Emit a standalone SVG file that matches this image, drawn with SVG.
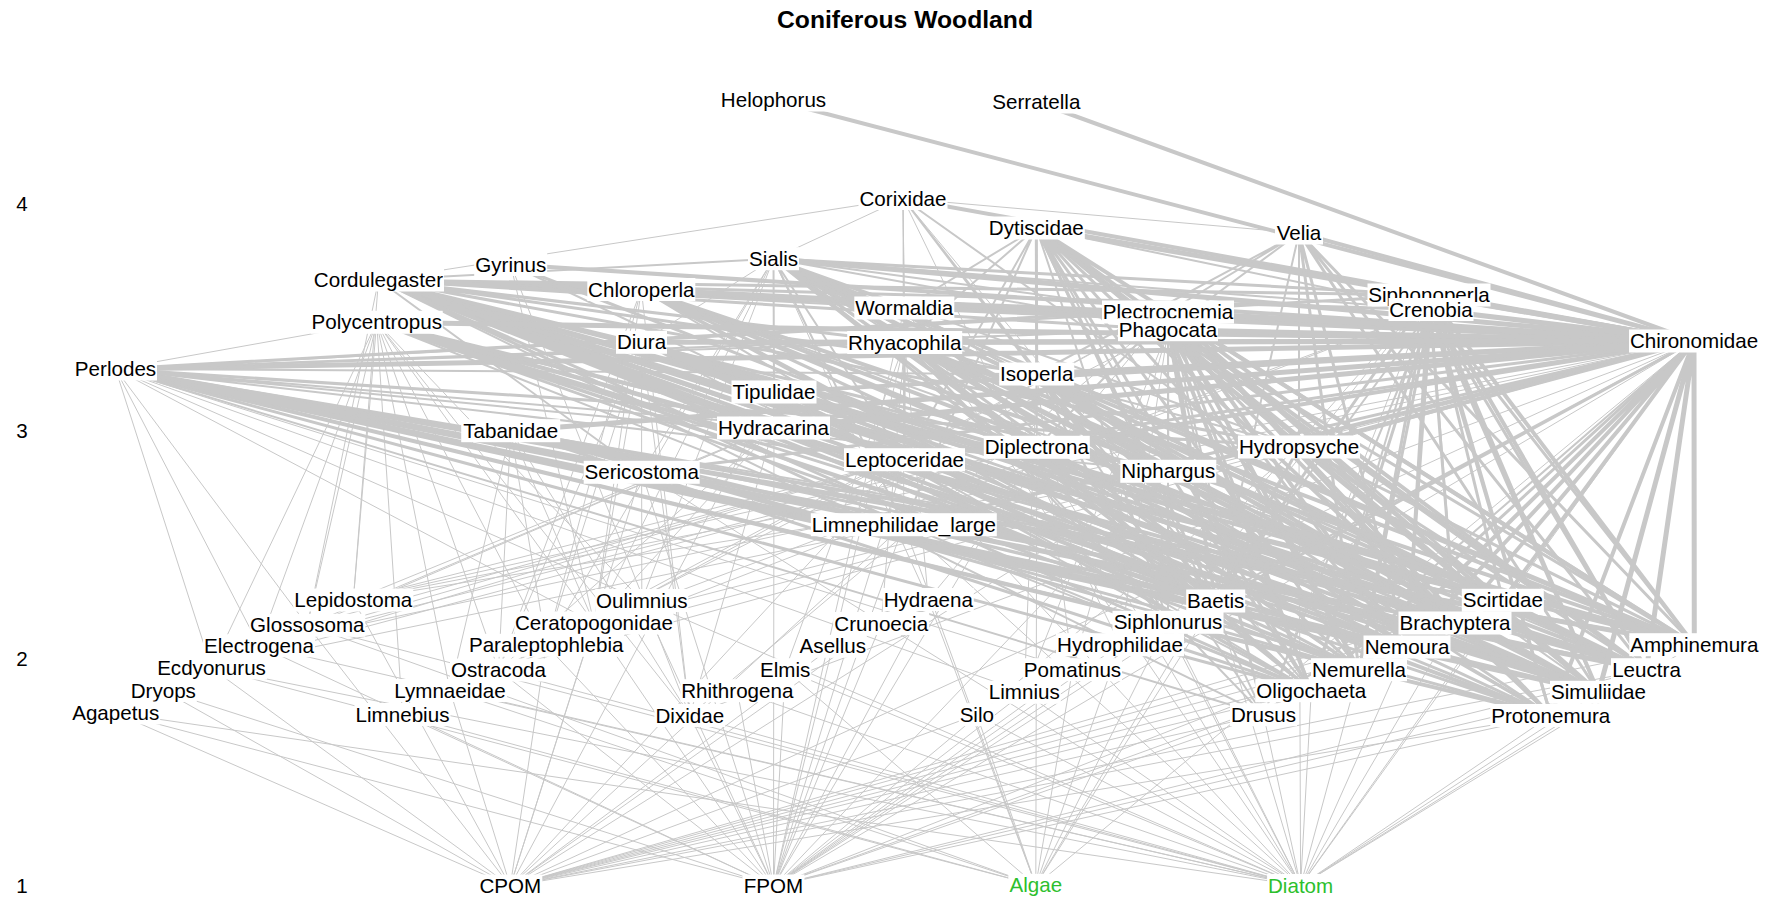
<svg xmlns="http://www.w3.org/2000/svg" width="1776" height="900" viewBox="0 0 1776 900">
<style>
text{font-family:"Liberation Sans",Arial,Helvetica,sans-serif;font-size:20.6px;fill:#000}
.title{font-size:24.7px;font-weight:bold;text-anchor:middle}
.axis text{text-anchor:middle}
#connectors path{fill:none;stroke:#c8c8c8;stroke-linecap:butt}
#connectors .w1{stroke-width:1}
#connectors .w2{stroke-width:2}
#connectors .w3{stroke-width:3}
#connectors .w4{stroke-width:4}
#connectors .w5{stroke-width:5}
.node rect{fill:#fff}
.node text{text-anchor:middle}
.node.producer text{fill:#2dbf2d}
</style>
<rect width="1776" height="900" fill="#fff"/>
<text class="title" x="905" y="28">Coniferous Woodland</text>
<g class="axis">
<text x="22" y="211">4</text>
<text x="22" y="438">3</text>
<text x="22" y="665.7">2</text>
<text x="22" y="893">1</text>
</g>
<g id="connectors">
<!-- Perlodes -->
<path class="w5" d="M115.5 369L1694 341M115.5 369L1646.5 669.7M115.5 369L1694.3 644.7M115.5 369L1598.5 692.3"/>
<path class="w4" d="M115.5 369L1550.8 715.5M115.5 369L1359 669.7M115.5 369L1407 647M115.5 369L1455 623M115.5 369L1215.7 601"/>
<path class="w3" d="M115.5 369L1429 295M115.5 369L1299 447M115.5 369L1502.8 600.3M115.5 369L1311.3 690.7"/>
<path class="w2" d="M115.5 369L1168 329.7M115.5 369L904.7 342.5M115.5 369L1036.7 374M115.5 369L1168 312M115.5 369L1168.3 471.3M115.5 369L1036.8 447.3M115.5 369L904.5 459.7M115.5 369L1263.5 714.7M115.5 369L1168 622.3"/>
<path class="w1" d="M115.5 369L376.7 322.3M115.5 369L211.5 668M115.5 369L259 645.7M115.5 369L307.3 625.3M115.5 369L641.8 600.5M115.5 369L594 623M115.5 369L1024.3 692.3M115.5 369L1072.5 669.7"/>
<!-- Cordulegaster -->
<path class="w5" d="M378.5 280L1694 341M378.5 280L1646.5 669.7M378.5 280L1694.3 644.7M378.5 280L1598.5 692.3"/>
<path class="w4" d="M378.5 280L1550.8 715.5M378.5 280L1359 669.7M378.5 280L1407 647M378.5 280L1455 623M378.5 280L1215.7 601M378.5 280L1502.8 600.3"/>
<path class="w3" d="M378.5 280L1429 295M378.5 280L1168 312M378.5 280L1168 329.7M378.5 280L1431 309.5M378.5 280L1036.7 374M378.5 280L904.7 342.5M378.5 280L1299 447M378.5 280L1168.3 471.3M378.5 280L1036.8 447.3M378.5 280L904.5 459.7M378.5 280L903.8 524.7M378.5 280L1311.3 690.7"/>
<path class="w2" d="M378.5 280L904.3 308M378.5 280L773.5 258.7M378.5 280L641.3 289.5M378.5 280L774 392M378.5 280L641.7 472.3M378.5 280L1263.5 714.7"/>
<path class="w1" d="M378.5 280L903 198.5M378.5 280L773.5 428M378.5 280L353.3 600M378.5 280L307.3 625.3"/>
<!-- Gyrinus -->
<path class="w4" d="M510.7 264.5L1694 341"/>
<path class="w3" d="M510.7 264.5L1598.5 692.3"/>
<path class="w2" d="M510.7 264.5L1215.7 601"/>
<path class="w1" d="M510.7 264.5L689.8 715.5M510.7 264.5L594 623"/>
<!-- Chloroperla -->
<path class="w5" d="M641.3 289.5L1694 341"/>
<path class="w4" d="M641.3 289.5L1646.5 669.7M641.3 289.5L1694.3 644.7M641.3 289.5L1598.5 692.3"/>
<path class="w3" d="M641.3 289.5L1407 647M641.3 289.5L1359 669.7M641.3 289.5L1550.8 715.5M641.3 289.5L1215.7 601M641.3 289.5L1455 623"/>
<path class="w2" d="M641.3 289.5L1311.3 690.7M641.3 289.5L1502.8 600.3"/>
<path class="w1" d="M641.3 289.5L594 623M641.3 289.5L689.8 715.5M641.3 289.5L546.2 645.3M641.3 289.5L498.5 670"/>
<!-- Sialis -->
<path class="w5" d="M773.5 258.7L1694 341"/>
<path class="w4" d="M773.5 258.7L1646.5 669.7M773.5 258.7L1694.3 644.7M773.5 258.7L1598.5 692.3"/>
<path class="w3" d="M773.5 258.7L1550.8 715.5M773.5 258.7L1359 669.7M773.5 258.7L1311.3 690.7M773.5 258.7L1215.7 601M773.5 258.7L1455 623M773.5 258.7L1407 647M773.5 258.7L1502.8 600.3M773.5 258.7L1429 295"/>
<path class="w2" d="M773.5 258.7L1431 309.5M773.5 258.7L1168 312M773.5 258.7L1168 329.7M773.5 258.7L1036.7 374M773.5 258.7L904.7 342.5M773.5 258.7L904.3 308M773.5 258.7L1299 447M773.5 258.7L1168.3 471.3M773.5 258.7L1036.8 447.3M773.5 258.7L904.5 459.7M773.5 258.7L774 392M773.5 258.7L903.8 524.7"/>
<path class="w1" d="M773.5 258.7L773.5 428M773.5 258.7L641.7 472.3M773.5 258.7L641.5 342.3M773.5 258.7L903 198.5M773.5 258.7L641.8 600.5M773.5 258.7L594 623M773.5 258.7L546.2 645.3M773.5 258.7L928.3 599.5"/>
<!-- Corixidae -->
<path class="w4" d="M903 198.5L1694 341"/>
<path class="w2" d="M903 198.5L1598.5 692.3M903 198.5L1215.7 601M903 198.5L1036.7 374"/>
<path class="w1" d="M903 198.5L904.3 308M903 198.5L904.7 342.5M903 198.5L903.8 524.7M903 198.5L1120 644.7M903 198.5L1311.3 690.7"/>
<!-- Helophorus, Serratella -->
<path class="w4" d="M773.5 100L1694 341M1036.3 102L1694 341"/>
<!-- Dytiscidae -->
<path class="w5" d="M1036.3 228L1694 341"/>
<path class="w4" d="M1036.3 228L1646.5 669.7M1036.3 228L1694.3 644.7M1036.3 228L1598.5 692.3"/>
<path class="w3" d="M1036.3 228L1429 295M1036.3 228L1036.7 374M1036.3 228L1215.7 601M1036.3 228L1359 669.7M1036.3 228L1407 647M1036.3 228L1455 623M1036.3 228L1550.8 715.5M1036.3 228L1502.8 600.3M1036.3 228L1311.3 690.7"/>
<path class="w2" d="M1036.3 228L1431 309.5M1036.3 228L1168 329.7M1036.3 228L904.7 342.5M1036.3 228L904.3 308M1036.3 228L1036.8 447.3M1036.3 228L1168.3 471.3M1036.3 228L1299 447M1036.3 228L904.5 459.7M1036.3 228L903.8 524.7M1036.3 228L1168 622.3M1036.3 228L1263.5 714.7"/>
<!-- Velia -->
<path class="w4" d="M1299 233L1694 341"/>
<path class="w3" d="M1299 233L1407 647M1299 233L1359 669.7M1299 233L1598.5 692.3M1299 233L1646.5 669.7M1299 233L1694.3 644.7"/>
<path class="w2" d="M1299 233L1036.7 374M1299 233L1168 312M1299 233L1168 329.7M1299 233L1299 447M1299 233L1215.7 601"/>
<path class="w1" d="M1299 233L903 198.5"/>
<!-- Siphonoperla -->
<path class="w5" d="M1429 295L1694 341"/>
<path class="w4" d="M1429 295L1646.5 669.7M1429 295L1694.3 644.7M1429 295L1598.5 692.3"/>
<path class="w3" d="M1429 295L1550.8 715.5M1429 295L1359 669.7M1429 295L1407 647M1429 295L1455 623M1429 295L1215.7 601M1429 295L1502.8 600.3"/>
<path class="w2" d="M1429 295L1311.3 690.7"/>
<path class="w1" d="M1429 295L1263.5 714.7M1429 295L1168 622.3M1429 295L1120 644.7"/>
<!-- Crenobia -->
<path class="w5" d="M1431 309.5L1694 341"/>
<path class="w3" d="M1431 309.5L1311.3 690.7M1431 309.5L1646.5 669.7M1431 309.5L1694.3 644.7M1431 309.5L1598.5 692.3M1431 309.5L1359 669.7M1431 309.5L1407 647M1431 309.5L1550.8 715.5"/>
<path class="w2" d="M1431 309.5L1215.7 601M1431 309.5L1455 623M1431 309.5L1263.5 714.7"/>
<path class="w1" d="M1431 309.5L498.5 670M1431 309.5L594 623"/>
<!-- Wormaldia -->
<path class="w4" d="M904.3 308L1694 341"/>
<path class="w3" d="M904.3 308L1598.5 692.3"/>
<path class="w2" d="M904.3 308L1215.7 601"/>
<path class="w1" d="M904.3 308L773.5 886M904.3 308L1300.6 885.5"/>
<!-- Plectrocnemia -->
<path class="w5" d="M1168 312L1694 341"/>
<path class="w4" d="M1168 312L1646.5 669.7M1168 312L1694.3 644.7M1168 312L1598.5 692.3M1168 312L1550.8 715.5M1168 312L1359 669.7M1168 312L1407 647"/>
<path class="w3" d="M1168 312L1455 623M1168 312L1215.7 601M1168 312L1502.8 600.3M1168 312L1311.3 690.7"/>
<path class="w2" d="M1168 312L1263.5 714.7M1168 312L1168 622.3M1168 312L1299 447M1168 312L1168.3 471.3M1168 312L1036.8 447.3"/>
<path class="w1" d="M1168 312L594 623M1168 312L689.8 715.5M1168 312L498.5 670M1168 312L928.3 599.5"/>
<!-- Polycentropus -->
<path class="w5" d="M376.7 322.3L1694 341"/>
<path class="w4" d="M376.7 322.3L1598.5 692.3M376.7 322.3L1646.5 669.7M376.7 322.3L1694.3 644.7"/>
<path class="w3" d="M376.7 322.3L1407 647M376.7 322.3L1359 669.7M376.7 322.3L1550.8 715.5M376.7 322.3L1215.7 601M376.7 322.3L1455 623M376.7 322.3L1502.8 600.3"/>
<path class="w2" d="M376.7 322.3L1311.3 690.7"/>
<path class="w1" d="M376.7 322.3L353.3 600M376.7 322.3L307.3 625.3M376.7 322.3L259 645.7M376.7 322.3L211.5 668M376.7 322.3L594 623M376.7 322.3L546.2 645.3M376.7 322.3L498.5 670M376.7 322.3L450 690.5M376.7 322.3L402.5 714.5M376.7 322.3L689.8 715.5M376.7 322.3L641.8 600.5"/>
<!-- Phagocata -->
<path class="w5" d="M1168 329.7L1694 341"/>
<path class="w4" d="M1168 329.7L1311.3 690.7"/>
<path class="w3" d="M1168 329.7L1646.5 669.7M1168 329.7L1694.3 644.7M1168 329.7L1598.5 692.3M1168 329.7L1359 669.7M1168 329.7L1407 647M1168 329.7L1550.8 715.5M1168 329.7L1215.7 601"/>
<path class="w2" d="M1168 329.7L1455 623M1168 329.7L1502.8 600.3M1168 329.7L1263.5 714.7M1168 329.7L1168 622.3"/>
<path class="w1" d="M1168 329.7L1120 644.7M1168 329.7L1072.5 669.7M1168 329.7L1024.3 692.3M1168 329.7L498.5 670"/>
<!-- Diura -->
<path class="w5" d="M641.5 342.3L1694 341"/>
<path class="w4" d="M641.5 342.3L1646.5 669.7M641.5 342.3L1694.3 644.7M641.5 342.3L1598.5 692.3"/>
<path class="w3" d="M641.5 342.3L1550.8 715.5M641.5 342.3L1359 669.7M641.5 342.3L1407 647M641.5 342.3L1215.7 601M641.5 342.3L1455 623M641.5 342.3L1502.8 600.3"/>
<path class="w2" d="M641.5 342.3L1311.3 690.7"/>
<path class="w1" d="M641.5 342.3L594 623M641.5 342.3L689.8 715.5M641.5 342.3L498.5 670M641.5 342.3L546.2 645.3M641.5 342.3L641.8 600.5"/>
<!-- Rhyacophila -->
<path class="w5" d="M904.7 342.5L1694 341"/>
<path class="w4" d="M904.7 342.5L1598.5 692.3M904.7 342.5L1646.5 669.7M904.7 342.5L1694.3 644.7M904.7 342.5L1215.7 601"/>
<path class="w3" d="M904.7 342.5L1550.8 715.5M904.7 342.5L1359 669.7M904.7 342.5L1407 647M904.7 342.5L1455 623M904.7 342.5L1502.8 600.3M904.7 342.5L1311.3 690.7"/>
<path class="w2" d="M904.7 342.5L1263.5 714.7M904.7 342.5L1168 622.3M904.7 342.5L1299 447M904.7 342.5L1036.8 447.3M904.7 342.5L904.5 459.7M904.7 342.5L1168.3 471.3"/>
<path class="w1" d="M904.7 342.5L785.2 669.7M904.7 342.5L928.3 599.5M904.7 342.5L881.2 623.5M904.7 342.5L832.8 646.3"/>
<!-- Isoperla -->
<path class="w5" d="M1036.7 374L1694 341"/>
<path class="w4" d="M1036.7 374L1646.5 669.7M1036.7 374L1694.3 644.7M1036.7 374L1598.5 692.3M1036.7 374L1215.7 601"/>
<path class="w3" d="M1036.7 374L1550.8 715.5M1036.7 374L1359 669.7M1036.7 374L1407 647M1036.7 374L1455 623M1036.7 374L1502.8 600.3"/>
<path class="w2" d="M1036.7 374L1311.3 690.7M1036.7 374L1168 622.3M1036.7 374L1263.5 714.7"/>
<path class="w1" d="M1036.7 374L1024.3 692.3M1036.7 374L1072.5 669.7M1036.7 374L1300.6 885.5"/>
<!-- Tipulidae -->
<path class="w4" d="M774 392L1694 341"/>
<path class="w3" d="M774 392L1311.3 690.7"/>
<path class="w2" d="M774 392L1598.5 692.3"/>
<path class="w1" d="M774 392L510.3 886M774 392L773.5 886"/>
<!-- Hydracarina -->
<path class="w5" d="M773.5 428L1694 341"/>
<path class="w3" d="M773.5 428L1598.5 692.3"/>
<path class="w2" d="M773.5 428L1215.7 601"/>
<path class="w1" d="M773.5 428L498.5 670M773.5 428L594 623M773.5 428L689.8 715.5M773.5 428L353.3 600M773.5 428L211.5 668M773.5 428L307.3 625.3"/>
<!-- Tabanidae -->
<path class="w5" d="M510.7 430.7L1694 341"/>
<path class="w3" d="M510.7 430.7L1311.3 690.7M510.7 430.7L1646.5 669.7M510.7 430.7L1598.5 692.3M510.7 430.7L1694.3 644.7M510.7 430.7L1407 647M510.7 430.7L1359 669.7M510.7 430.7L1550.8 715.5"/>
<path class="w2" d="M510.7 430.7L1502.8 600.3"/>
<path class="w1" d="M510.7 430.7L594 623M510.7 430.7L689.8 715.5M510.7 430.7L498.5 670M510.7 430.7L546.2 645.3M510.7 430.7L450 690.5"/>
<!-- Diplectrona -->
<path class="w4" d="M1036.8 447.3L1694 341"/>
<path class="w3" d="M1036.8 447.3L1598.5 692.3"/>
<path class="w2" d="M1036.8 447.3L1215.7 601M1036.8 447.3L1311.3 690.7"/>
<path class="w1" d="M1036.8 447.3L773.5 886M1036.8 447.3L1300.6 885.5M1036.8 447.3L1035.8 885.3M1036.8 447.3L211.5 668M1036.8 447.3L259 645.7M1036.8 447.3L353.3 600"/>
<!-- Hydropsyche -->
<path class="w4" d="M1299 447L1694 341M1299 447L1598.5 692.3"/>
<path class="w3" d="M1299 447L1215.7 601M1299 447L1646.5 669.7M1299 447L1694.3 644.7"/>
<path class="w1" d="M1299 447L773.5 886M1299 447L1300.6 885.5M1299 447L1035.8 885.3"/>
<!-- Leptoceridae -->
<path class="w3" d="M904.5 459.7L1694 341"/>
<path class="w2" d="M904.5 459.7L1311.3 690.7"/>
<path class="w1" d="M904.5 459.7L510.3 886M904.5 459.7L773.5 886M904.5 459.7L1300.6 885.5M904.5 459.7L211.5 668M904.5 459.7L259 645.7M904.5 459.7L353.3 600M904.5 459.7L307.3 625.3"/>
<!-- Sericostoma -->
<path class="w3" d="M641.7 472.3L1694 341"/>
<path class="w1" d="M641.7 472.3L510.3 886M641.7 472.3L773.5 886M641.7 472.3L1300.6 885.5"/>
<!-- Niphargus -->
<path class="w4" d="M1168.3 471.3L1694 341"/>
<path class="w3" d="M1168.3 471.3L1311.3 690.7"/>
<path class="w2" d="M1168.3 471.3L1646.5 669.7M1168.3 471.3L1598.5 692.3"/>
<path class="w1" d="M1168.3 471.3L510.3 886M1168.3 471.3L773.5 886M1168.3 471.3L353.3 600M1168.3 471.3L211.5 668"/>
<!-- Limnephilidae_large -->
<path class="w3" d="M903.8 524.7L1694 341"/>
<path class="w2" d="M903.8 524.7L1311.3 690.7"/>
<path class="w1" d="M903.8 524.7L510.3 886M903.8 524.7L773.5 886M903.8 524.7L1035.8 885.3M903.8 524.7L1300.6 885.5"/>
<!-- Chironomidae -->
<path class="w5" d="M1694 341L1694.3 644.7M1694 341L1646.5 669.7M1694 341L1598.5 692.3"/>
<path class="w4" d="M1694 341L1550.8 715.5M1694 341L1359 669.7M1694 341L1502.8 600.3M1694 341L1455 623M1694 341L1407 647"/>
<path class="w3" d="M1694 341L1215.7 601M1694 341L1311.3 690.7"/>
<path class="w2" d="M1694 341L1263.5 714.7M1694 341L1168 622.3"/>
<path class="w1" d="M1694 341L594 623M1694 341L689.8 715.5M1694 341L498.5 670M1694 341L546.2 645.3M1694 341L773.5 886M1694 341L1300.6 885.5M1694 341L510.3 886M1694 341L1035.8 885.3M1694 341L353.3 600M1694 341L259 645.7"/>
<!-- primary consumers to basal resources -->
<path class="w1" d="M353.3 600L510.3 886M641.8 600.5L773.5 886M641.8 600.5L1300.6 885.5M928.3 599.5L1035.8 885.3M928.3 599.5L773.5 886M1215.7 601L773.5 886M1215.7 601L1300.6 885.5M1215.7 601L1035.8 885.3M1502.8 600.3L510.3 886M1502.8 600.3L773.5 886M1502.8 600.3L1300.6 885.5M307.3 625.3L1300.6 885.5M307.3 625.3L1035.8 885.3M307.3 625.3L510.3 886M594 623L773.5 886M594 623L510.3 886M881.2 623.5L510.3 886M881.2 623.5L773.5 886M1168 622.3L1300.6 885.5M1168 622.3L773.5 886M1168 622.3L1035.8 885.3M1455 623L510.3 886M1455 623L1300.6 885.5M259 645.7L1300.6 885.5M259 645.7L773.5 886M546.2 645.3L773.5 886M546.2 645.3L510.3 886M832.8 646.3L510.3 886M832.8 646.3L773.5 886M1120 644.7L1035.8 885.3M1120 644.7L773.5 886M1407 647L510.3 886M1407 647L1300.6 885.5M1694.3 644.7L510.3 886M1694.3 644.7L1300.6 885.5M211.5 668L1300.6 885.5M211.5 668L1035.8 885.3M211.5 668L510.3 886M498.5 670L773.5 886M498.5 670L1300.6 885.5M785.2 669.7L773.5 886M785.2 669.7L1300.6 885.5M785.2 669.7L1035.8 885.3M1072.5 669.7L773.5 886M1072.5 669.7L1035.8 885.3M1359 669.7L510.3 886M1359 669.7L1300.6 885.5M1646.5 669.7L510.3 886M1646.5 669.7L1300.6 885.5M1646.5 669.7L773.5 886M163.3 690.5L510.3 886M163.3 690.5L773.5 886M450 690.5L1035.8 885.3M450 690.5L1300.6 885.5M450 690.5L510.3 886M737.3 690.7L1300.6 885.5M737.3 690.7L773.5 886M1024.3 692.3L773.5 886M1024.3 692.3L1300.6 885.5M1311.3 690.7L773.5 886M1311.3 690.7L510.3 886M1311.3 690.7L1300.6 885.5M1598.5 692.3L773.5 886M1598.5 692.3L1300.6 885.5M115.7 713L1300.6 885.5M115.7 713L510.3 886M115.7 713L773.5 886M402.5 714.5L1035.8 885.3M402.5 714.5L773.5 886M689.8 715.5L773.5 886M689.8 715.5L1300.6 885.5M976.8 714.7L510.3 886M976.8 714.7L1035.8 885.3M976.8 714.7L1300.6 885.5M1263.5 714.7L510.3 886M1263.5 714.7L1300.6 885.5M1263.5 714.7L773.5 886M1550.8 715.5L510.3 886M1550.8 715.5L1300.6 885.5M1550.8 715.5L773.5 886"/>
</g>
<g id="nodes">
<g id="node-Helophorus" class="node" transform="translate(773.5 107)"><rect x="-53.5" y="-18.5" width="107" height="23"/><text>Helophorus</text></g>
<g id="node-Serratella" class="node" transform="translate(1036.3 109)"><rect x="-45" y="-18.5" width="90" height="23"/><text>Serratella</text></g>
<g id="node-Corixidae" class="node" transform="translate(903 205.5)"><rect x="-44.5" y="-18.5" width="89" height="23"/><text>Corixidae</text></g>
<g id="node-Dytiscidae" class="node" transform="translate(1036.3 235)"><rect x="-48.5" y="-18.5" width="97" height="23"/><text>Dytiscidae</text></g>
<g id="node-Velia" class="node" transform="translate(1299 240)"><rect x="-24" y="-18.5" width="48" height="23"/><text>Velia</text></g>
<g id="node-Sialis" class="node" transform="translate(773.5 265.7)"><rect x="-25.5" y="-18.5" width="51" height="23"/><text>Sialis</text></g>
<g id="node-Gyrinus" class="node" transform="translate(510.7 271.5)"><rect x="-36.5" y="-18.5" width="73" height="23"/><text>Gyrinus</text></g>
<g id="node-Cordulegaster" class="node" transform="translate(378.5 287)"><rect x="-65.5" y="-18.5" width="131" height="23"/><text>Cordulegaster</text></g>
<g id="node-Chloroperla" class="node" transform="translate(641.3 296.5)"><rect x="-54" y="-18.5" width="108" height="23"/><text>Chloroperla</text></g>
<g id="node-Siphonoperla" class="node" transform="translate(1429 302)"><rect x="-61.5" y="-18.5" width="123" height="23"/><text>Siphonoperla</text></g>
<g id="node-Crenobia" class="node" transform="translate(1431 316.5)"><rect x="-42.5" y="-18.5" width="85" height="23"/><text>Crenobia</text></g>
<g id="node-Wormaldia" class="node" transform="translate(904.3 315)"><rect x="-50" y="-18.5" width="100" height="23"/><text>Wormaldia</text></g>
<g id="node-Plectrocnemia" class="node" transform="translate(1168 319)"><rect x="-66" y="-18.5" width="132" height="23"/><text>Plectrocnemia</text></g>
<g id="node-Polycentropus" class="node" transform="translate(376.7 329.3)"><rect x="-66" y="-18.5" width="132" height="23"/><text>Polycentropus</text></g>
<g id="node-Phagocata" class="node" transform="translate(1168 336.7)"><rect x="-50" y="-18.5" width="100" height="23"/><text>Phagocata</text></g>
<g id="node-Diura" class="node" transform="translate(641.5 349.3)"><rect x="-25.5" y="-18.5" width="51" height="23"/><text>Diura</text></g>
<g id="node-Rhyacophila" class="node" transform="translate(904.7 349.5)"><rect x="-57.5" y="-18.5" width="115" height="23"/><text>Rhyacophila</text></g>
<g id="node-Chironomidae" class="node" transform="translate(1694 348)"><rect x="-65" y="-18.5" width="130" height="23"/><text>Chironomidae</text></g>
<g id="node-Perlodes" class="node" transform="translate(115.5 376)"><rect x="-41.5" y="-18.5" width="83" height="23"/><text>Perlodes</text></g>
<g id="node-Isoperla" class="node" transform="translate(1036.7 381)"><rect x="-37.5" y="-18.5" width="75" height="23"/><text>Isoperla</text></g>
<g id="node-Tipulidae" class="node" transform="translate(774 399)"><rect x="-42.5" y="-18.5" width="85" height="23"/><text>Tipulidae</text></g>
<g id="node-Hydracarina" class="node" transform="translate(773.5 435)"><rect x="-56.5" y="-18.5" width="113" height="23"/><text>Hydracarina</text></g>
<g id="node-Tabanidae" class="node" transform="translate(510.7 437.7)"><rect x="-49.5" y="-18.5" width="99" height="23"/><text>Tabanidae</text></g>
<g id="node-Diplectrona" class="node" transform="translate(1036.8 454.3)"><rect x="-53" y="-18.5" width="106" height="23"/><text>Diplectrona</text></g>
<g id="node-Hydropsyche" class="node" transform="translate(1299 454)"><rect x="-61" y="-18.5" width="122" height="23"/><text>Hydropsyche</text></g>
<g id="node-Leptoceridae" class="node" transform="translate(904.5 466.7)"><rect x="-60.5" y="-18.5" width="121" height="23"/><text>Leptoceridae</text></g>
<g id="node-Sericostoma" class="node" transform="translate(641.7 479.3)"><rect x="-58" y="-18.5" width="116" height="23"/><text>Sericostoma</text></g>
<g id="node-Niphargus" class="node" transform="translate(1168.3 478.3)"><rect x="-48" y="-18.5" width="96" height="23"/><text>Niphargus</text></g>
<g id="node-Limnephilidae_large" class="node" transform="translate(903.8 531.7)"><rect x="-93" y="-18.5" width="186" height="23"/><text>Limnephilidae_large</text></g>
<g id="node-Lepidostoma" class="node" transform="translate(353.3 607)"><rect x="-60" y="-18.5" width="120" height="23"/><text>Lepidostoma</text></g>
<g id="node-Oulimnius" class="node" transform="translate(641.8 607.5)"><rect x="-46.5" y="-18.5" width="93" height="23"/><text>Oulimnius</text></g>
<g id="node-Hydraena" class="node" transform="translate(928.3 606.5)"><rect x="-45.5" y="-18.5" width="91" height="23"/><text>Hydraena</text></g>
<g id="node-Baetis" class="node" transform="translate(1215.7 608)"><rect x="-29.5" y="-18.5" width="59" height="23"/><text>Baetis</text></g>
<g id="node-Scirtidae" class="node" transform="translate(1502.8 607.3)"><rect x="-41" y="-18.5" width="82" height="23"/><text>Scirtidae</text></g>
<g id="node-Glossosoma" class="node" transform="translate(307.3 632.3)"><rect x="-58" y="-18.5" width="116" height="23"/><text>Glossosoma</text></g>
<g id="node-Ceratopogonidae" class="node" transform="translate(594 630)"><rect x="-79.5" y="-18.5" width="159" height="23"/><text>Ceratopogonidae</text></g>
<g id="node-Crunoecia" class="node" transform="translate(881.2 630.5)"><rect x="-48" y="-18.5" width="96" height="23"/><text>Crunoecia</text></g>
<g id="node-Siphlonurus" class="node" transform="translate(1168 629.3)"><rect x="-55.5" y="-18.5" width="111" height="23"/><text>Siphlonurus</text></g>
<g id="node-Brachyptera" class="node" transform="translate(1455 630)"><rect x="-56.5" y="-18.5" width="113" height="23"/><text>Brachyptera</text></g>
<g id="node-Electrogena" class="node" transform="translate(259 652.7)"><rect x="-56" y="-18.5" width="112" height="23"/><text>Electrogena</text></g>
<g id="node-Paraleptophlebia" class="node" transform="translate(546.2 652.3)"><rect x="-78" y="-18.5" width="156" height="23"/><text>Paraleptophlebia</text></g>
<g id="node-Asellus" class="node" transform="translate(832.8 653.3)"><rect x="-34" y="-18.5" width="68" height="23"/><text>Asellus</text></g>
<g id="node-Hydrophilidae" class="node" transform="translate(1120 651.7)"><rect x="-64" y="-18.5" width="128" height="23"/><text>Hydrophilidae</text></g>
<g id="node-Nemoura" class="node" transform="translate(1407 654)"><rect x="-43.5" y="-18.5" width="87" height="23"/><text>Nemoura</text></g>
<g id="node-Amphinemura" class="node" transform="translate(1694.3 651.7)"><rect x="-65" y="-18.5" width="130" height="23"/><text>Amphinemura</text></g>
<g id="node-Ecdyonurus" class="node" transform="translate(211.5 675)"><rect x="-55.5" y="-18.5" width="111" height="23"/><text>Ecdyonurus</text></g>
<g id="node-Ostracoda" class="node" transform="translate(498.5 677)"><rect x="-48.5" y="-18.5" width="97" height="23"/><text>Ostracoda</text></g>
<g id="node-Elmis" class="node" transform="translate(785.2 676.7)"><rect x="-26" y="-18.5" width="52" height="23"/><text>Elmis</text></g>
<g id="node-Pomatinus" class="node" transform="translate(1072.5 676.7)"><rect x="-49.5" y="-18.5" width="99" height="23"/><text>Pomatinus</text></g>
<g id="node-Nemurella" class="node" transform="translate(1359 676.7)"><rect x="-48" y="-18.5" width="96" height="23"/><text>Nemurella</text></g>
<g id="node-Leuctra" class="node" transform="translate(1646.5 676.7)"><rect x="-35.5" y="-18.5" width="71" height="23"/><text>Leuctra</text></g>
<g id="node-Dryops" class="node" transform="translate(163.3 697.5)"><rect x="-33.5" y="-18.5" width="67" height="23"/><text>Dryops</text></g>
<g id="node-Lymnaeidae" class="node" transform="translate(450 697.5)"><rect x="-57" y="-18.5" width="114" height="23"/><text>Lymnaeidae</text></g>
<g id="node-Rhithrogena" class="node" transform="translate(737.3 697.7)"><rect x="-57" y="-18.5" width="114" height="23"/><text>Rhithrogena</text></g>
<g id="node-Limnius" class="node" transform="translate(1024.3 699.3)"><rect x="-36.5" y="-18.5" width="73" height="23"/><text>Limnius</text></g>
<g id="node-Oligochaeta" class="node" transform="translate(1311.3 697.7)"><rect x="-56" y="-18.5" width="112" height="23"/><text>Oligochaeta</text></g>
<g id="node-Simuliidae" class="node" transform="translate(1598.5 699.3)"><rect x="-48.5" y="-18.5" width="97" height="23"/><text>Simuliidae</text></g>
<g id="node-Agapetus" class="node" transform="translate(115.7 720)"><rect x="-44.5" y="-18.5" width="89" height="23"/><text>Agapetus</text></g>
<g id="node-Limnebius" class="node" transform="translate(402.5 721.5)"><rect x="-48" y="-18.5" width="96" height="23"/><text>Limnebius</text></g>
<g id="node-Dixidae" class="node" transform="translate(689.8 722.5)"><rect x="-35.5" y="-18.5" width="71" height="23"/><text>Dixidae</text></g>
<g id="node-Silo" class="node" transform="translate(976.8 721.7)"><rect x="-18" y="-18.5" width="36" height="23"/><text>Silo</text></g>
<g id="node-Drusus" class="node" transform="translate(1263.5 721.7)"><rect x="-33.5" y="-18.5" width="67" height="23"/><text>Drusus</text></g>
<g id="node-Protonemura" class="node" transform="translate(1550.8 722.5)"><rect x="-60.5" y="-18.5" width="121" height="23"/><text>Protonemura</text></g>
<g id="node-CPOM" class="node" transform="translate(510.3 893)"><rect x="-32" y="-18.5" width="64" height="23"/><text>CPOM</text></g>
<g id="node-FPOM" class="node" transform="translate(773.5 893)"><rect x="-31" y="-18.5" width="62" height="23"/><text>FPOM</text></g>
<g id="node-Algae" class="node producer" transform="translate(1035.8 892.3)"><rect x="-27.5" y="-18.5" width="55" height="23"/><text>Algae</text></g>
<g id="node-Diatom" class="node producer" transform="translate(1300.6 892.5)"><rect x="-33.5" y="-18.5" width="67" height="23"/><text>Diatom</text></g>
</g>
</svg>
